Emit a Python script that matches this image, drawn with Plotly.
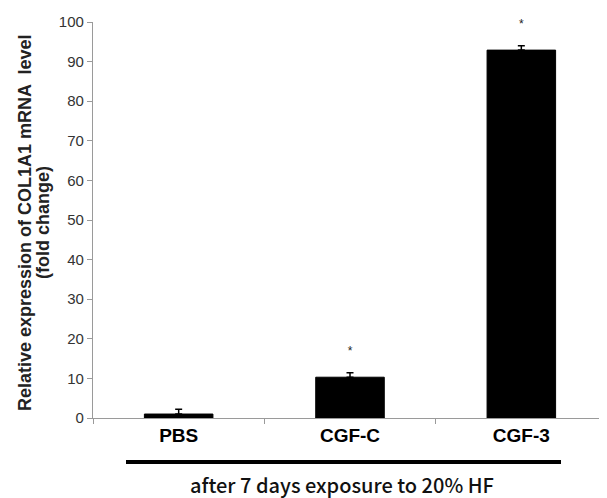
import plotly.graph_objects as go

categories = ["PBS", "CGF-C", "CGF-3"]
values = [1.0, 10.3, 92.9]
errors = [1.2, 1.1, 1.1]
star_labels = ["", "*", "*"]
star_y = [None, 16.7, 99.3]
y_ticks = [0, 10, 20, 30, 40, 50, 60, 70, 80, 90, 100]
y_title_lines = ["Relative expression of COL1A1 mRNA  level", "(fold change)"]
caption = "after 7 days exposure to 20% HF"

# page body has an 8px default margin; size figure so it fits the 607x498 window
W, H = 599, 490
L, T, B, R = 85, 14, 80, 0
PW, PH = W - L - R, H - T - B

fig = go.Figure()
fig.add_trace(go.Bar(
    x=categories, y=values,
    marker=dict(color="black", line=dict(color="black", width=1)),
    error_y=dict(type="data", array=errors, arrayminus=[0, 0, 0], symmetric=False,
                 color="black", thickness=1.5, width=3.5),
    width=0.4,
    showlegend=False,
))
fig.add_trace(go.Scatter(
    x=categories, y=star_y, mode="text", text=star_labels,
    textfont=dict(size=12, color="#222", family="Arial"),
    cliponaxis=False,
    showlegend=False,
))

title_annots = [
    dict(text="<b>" + t + "</b>", xref="paper", yref="paper",
         x=(px - L) / PW, y=(H - B - 215) / PH, textangle=-90,
         showarrow=False, xanchor="center", yanchor="middle",
         font=dict(size=18, color="#222", family="Arial, Liberation Sans"))
    for t, px in zip(y_title_lines, [17, 35])
]

fig.update_layout(
    width=W, height=H,
    margin=dict(l=L, r=R, t=T, b=B, autoexpand=False),
    plot_bgcolor="white", paper_bgcolor="white",
    font=dict(family="Arial, Liberation Sans", color="#333"),
    xaxis=dict(
        type="category", showline=True, linecolor="#9a9a9a", linewidth=1.2,
        ticks="outside", tickson="boundaries", ticklen=5, tickcolor="#9a9a9a",
        tickvals=categories, ticktext=["<b>" + c + "</b>" for c in categories],
        tickfont=dict(size=19, color="black", family="Arial, Liberation Sans"),
        showgrid=False, range=[-0.5, 2.5], tickangle=0,
    ),
    yaxis=dict(
        range=[0, 100], tickvals=y_ticks, showline=True, linecolor="#9a9a9a",
        linewidth=1.2, ticks="outside", ticklen=5, tickcolor="#9a9a9a",
        tickfont=dict(size=15, color="#333"), showgrid=False, zeroline=False,
    ),
    shapes=[dict(type="line", xref="paper", yref="paper",
                 x0=(118 - L) / PW, x1=(553 - L) / PW,
                 y0=-(454 - (H - B)) / PH, y1=-(454 - (H - B)) / PH,
                 line=dict(color="black", width=4))],
    annotations=title_annots + [dict(text=caption, xref="paper", yref="paper",
                      x=(334 - L) / PW, y=-(477 - (H - B)) / PH,
                      showarrow=False, xanchor="center", yanchor="middle",
                      font=dict(size=20, color="#111", family="Noto Sans CJK KR",
                                weight=500))],
)
fig.write_html("out.html")
